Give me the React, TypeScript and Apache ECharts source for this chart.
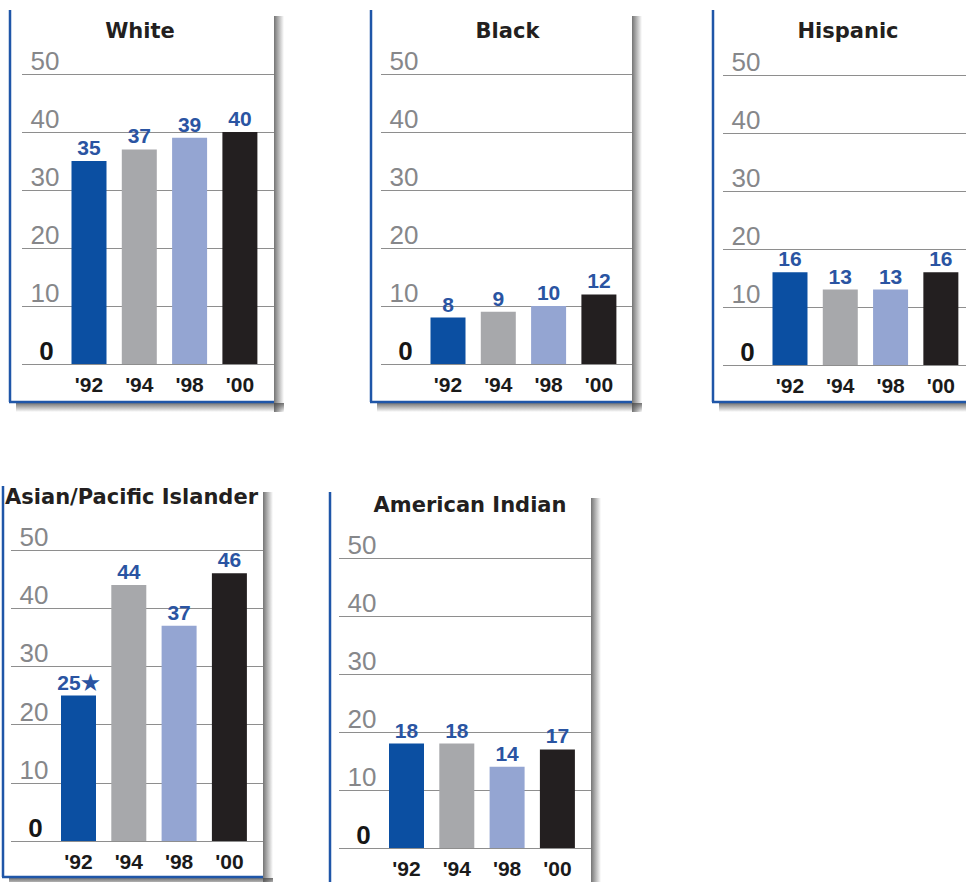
import React, { useEffect, useRef } from "react";
import * as echarts from "echarts";

// ---- data ----
const years = ["'92", "'94", "'98", "'00"];
const groups = ["White", "Black", "Hispanic", "Asian/Pacific Islander", "American Indian"];
const white = [35, 37, 39, 40];
const black = [8, 9, 10, 12];
const hispanic = [16, 13, 13, 16];
const asianPacificIslander = [25, 44, 37, 46];
const americanIndian = [18, 18, 14, 17];
const asianNotes = ["\u2605", "", "", ""];
const noNotes = ["", "", "", ""];
const yTicks = [0, 10, 20, 30, 40, 50];

const groupValues = [white, black, hispanic, asianPacificIslander, americanIndian];
const groupNotes = [noNotes, noNotes, noNotes, asianNotes, noNotes];

// ---- style / layout ----
const barColors = ["#0b4fa2", "#a7a8ab", "#94a5d2", "#231f20"];
const blueBorder = "#1f56a8";
const labelBlue = "#2a54a2";
const narrow = '"Liberation Sans", Arimo, Arial, sans-serif';
const titleFont = '"DejaVu Sans", "Open Sans", sans-serif';
const PAGE_W = 966;

const layout = [
  { border: 10, top: 10, bottom: 402, right: 274, gridStart: 22, y50: 74, y0: 364, titleX: 140, titleY: 20, c0: 89 },
  { border: 371, top: 10, bottom: 402, right: 632, gridStart: 381, y50: 74, y0: 364, titleX: 507.5, titleY: 20, c0: 448 },
  { border: 713, top: 10, bottom: 402, right: 976, gridStart: 723, y50: 75, y0: 365, titleX: 848, titleY: 20, c0: 790 },
  { border: 3, top: 486, bottom: 877, right: 263, gridStart: 11, y50: 550, y0: 841, titleX: 131.5, titleY: 486, c0: 78.5 },
  { border: 330, top: 492, bottom: 900, right: 591, gridStart: 339, y50: 558, y0: 848, titleX: 470, titleY: 494, c0: 406.5 },
];
const STEP = 50.3;
const BAR_W = 35;

function buildOption() {
  const grid: any[] = [];
  const xAxis: any[] = [];
  const yAxis: any[] = [];
  const series: any[] = [];
  const title: any[] = [];
  const graphic: any[] = [];

  layout.forEach((L, i) => {
    const h = L.y0 - L.y50;
    const gridRight = Math.min(L.right, PAGE_W);
    grid.push({ left: L.gridStart, top: L.y50, width: gridRight - L.gridStart, height: h, containLabel: false });
    grid.push({ left: L.c0 - STEP / 2, top: L.y50, width: STEP * years.length, height: h, containLabel: false });

    const ga = i * 2;
    const gb = i * 2 + 1;

    xAxis.push({ gridIndex: ga, type: "value", show: false, min: 0, max: 1 });
    yAxis.push({
      gridIndex: ga,
      type: "value",
      min: yTicks[0],
      max: yTicks[yTicks.length - 1],
      interval: yTicks[1] - yTicks[0],
      axisLine: { show: false },
      axisTick: { show: false },
      splitLine: { show: true, lineStyle: { color: "#8e8e8e", width: 1 } },
      axisLabel: {
        inside: true,
        margin: 23,
        align: "center",
        verticalAlign: "bottom",
        padding: [0, 0, 0, 0],
        formatter: (v: number) => (v === 0 ? `{z|${v}}` : `{g|${v}}`),
        rich: {
          z: { color: "#161616", fontFamily: narrow, fontSize: 26, fontWeight: "bold", padding: [0, 0, 0, 3] },
          g: { color: "#86878a", fontFamily: narrow, fontSize: 26 },
        },
      },
    });

    xAxis.push({
      gridIndex: gb,
      type: "category",
      data: years,
      axisLine: { show: false },
      axisTick: { show: false },
      axisLabel: { margin: 10, color: "#1a1a1a", fontFamily: narrow, fontSize: 21, fontWeight: "bold" },
    });
    yAxis.push({ gridIndex: gb, type: "value", min: 0, max: 50, show: false, splitLine: { show: false } });

    const notes = groupNotes[i];
    series.push({
      type: "bar",
      name: groups[i],
      xAxisIndex: gb,
      yAxisIndex: gb,
      barWidth: BAR_W,
      data: groupValues[i].map((v, k) => ({ value: v, itemStyle: { color: barColors[k] } })),
      label: {
        show: true,
        position: "top",
        distance: 3,
        color: labelBlue,
        fontFamily: narrow,
        fontSize: 21,
        fontWeight: "bold",
        formatter: (p: any) => `${p.value}${notes[p.dataIndex] || ""}`,
      },
    });

    title.push({
      text: groups[i],
      left: L.titleX,
      top: L.titleY,
      textAlign: "center",
      padding: 0,
      textStyle: { fontFamily: titleFont, fontSize: 21, fontWeight: "bold", color: "#231f20" },
    });

    graphic.push({
      type: "rect",
      silent: true,
      shape: { x: L.right, y: L.top + 6, width: 10, height: L.bottom - L.top + 4 },
      style: {
        fill: new echarts.graphic.LinearGradient(0, 0, 1, 0, [
          { offset: 0, color: "rgba(70,70,70,0.75)" },
          { offset: 1, color: "rgba(70,70,70,0)" },
        ]),
      },
      z: 1,
    });
    graphic.push({
      type: "rect",
      silent: true,
      shape: { x: L.border + 6, y: L.bottom + 1, width: L.right - L.border + 4, height: 9 },
      style: {
        fill: new echarts.graphic.LinearGradient(0, 0, 0, 1, [
          { offset: 0, color: "rgba(70,70,70,0.75)" },
          { offset: 1, color: "rgba(70,70,70,0)" },
        ]),
      },
      z: 1,
    });
    graphic.push({
      type: "line",
      silent: true,
      shape: { x1: L.border, y1: L.top, x2: L.border, y2: L.bottom },
      style: { stroke: blueBorder, lineWidth: 2.5 },
      z: 2,
    });
    graphic.push({
      type: "line",
      silent: true,
      shape: { x1: L.border - 1, y1: L.bottom, x2: L.right, y2: L.bottom },
      style: { stroke: blueBorder, lineWidth: 2.5 },
      z: 2,
    });
  });

  return {
    animation: false,
    backgroundColor: "#ffffff",
    title,
    grid,
    xAxis,
    yAxis,
    series,
    graphic,
  };
}

export default function App() {
  const ref = useRef<HTMLDivElement>(null);
  useEffect(() => {
    if (!ref.current) return;
    const chart = echarts.init(ref.current, null, { renderer: "svg" });
    chart.setOption(buildOption() as any);
    return () => chart.dispose();
  }, []);
  return (
    <div
      ref={ref}
      style={{ position: "absolute", left: 0, top: 0, width: 966, height: 882 }}
    />
  );
}
